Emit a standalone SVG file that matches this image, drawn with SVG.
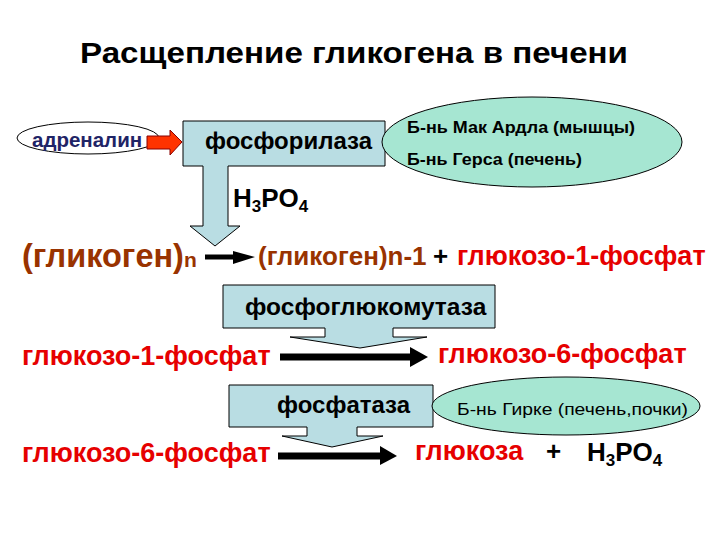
<svg xmlns="http://www.w3.org/2000/svg" width="720" height="540" viewBox="0 0 720 540">
<style>
text{font-family:"Liberation Sans",Arial,sans-serif;font-weight:bold}
.callout{fill:#b9dde3;stroke:#000;stroke-width:1}
.green{fill:#a6e6d2;stroke:#000;stroke-width:1}
.brown{fill:#993300}
.red{fill:#e60000}
.blk{fill:#000}
.arr{stroke:#000;stroke-width:7;fill:none}
</style>
<rect width="720" height="540" fill="#fff"/>
<text x="80" y="63" font-size="30" class="blk" textLength="548" lengthAdjust="spacingAndGlyphs">Расщепление гликогена в печени</text>

<g id="adrenalin">
<ellipse cx="88" cy="138" rx="71" ry="16" fill="#fff" stroke="#000" stroke-width="1"/>
<text x="32" y="147" font-size="20.5" fill="#1f2466">адреналин</text>
</g>

<g id="phosphorylase">
<path class="callout" d="M183,121 H385 V166 H228 V226 H240 L215,246 L190,226 H203 V166 H183 Z"/>
<text x="205" y="149" font-size="24" class="blk">фосфорилаза</text>
</g>

<g id="disease1">
<ellipse class="green" cx="532" cy="142" rx="150" ry="45"/>
<text x="407" y="133" font-size="17" class="blk" textLength="228" lengthAdjust="spacingAndGlyphs">Б-нь Мак Ардла (мышцы)</text>
<text x="407" y="165" font-size="17" class="blk" textLength="175" lengthAdjust="spacingAndGlyphs">Б-нь Герса (печень)</text>
</g>

<g id="h3po4-top">
<text x="233" y="207" font-size="26" class="blk">H<tspan font-size="17" dy="5">3</tspan><tspan dy="-5">PO</tspan><tspan font-size="17" dy="5">4</tspan></text>
</g>

<g id="glycogen-n">
<text x="22" y="267" font-size="32.5" class="brown">(гликоген)<tspan font-size="21">n</tspan></text>
</g>

<g id="products1">
<text x="258" y="265" font-size="26" class="brown">(гликоген)n-1</text>
<text x="433" y="265" font-size="26" class="blk">+</text>
<text x="457" y="265" font-size="27" class="red">глюкозо-1-фосфат</text>
</g>

<g id="phosphoglucomutase">
<path class="callout" d="M223,285 H495 V328 H393 V337 H427 L360,348 L290,337 H325 V328 H223 Z"/>
<text x="245" y="315" font-size="24.5" class="blk">фосфоглюкомутаза</text>
</g>

<g id="g1p">
<text x="22" y="365" font-size="27" class="red">глюкозо-1-фосфат</text>
</g>
<g id="g6p">
<text x="438" y="363" font-size="27" class="red">глюкозо-6-фосфат</text>
</g>

<g id="phosphatase">
<path class="callout" d="M229,385 H433 V427 H357 V436 H383 L332,447 L282,436 H307 V427 H229 Z"/>
<text x="277" y="413" font-size="24" class="blk">фосфатаза</text>
</g>

<g id="disease2">
<ellipse class="green" cx="566" cy="406" rx="134" ry="29"/>
<text x="457" y="415" font-size="17" style="font-weight:normal" class="blk" textLength="231" lengthAdjust="spacingAndGlyphs">Б-нь Гирке (печень,почки)</text>
</g>

<g id="g6p-2">
<text x="22" y="462" font-size="27" class="red">глюкозо-6-фосфат</text>
</g>
<g id="glucose">
<text x="415" y="460" font-size="27" class="red">глюкоза</text>
<text x="546" y="460" font-size="26" class="blk">+</text>
<text x="587" y="461" font-size="26" class="blk">H<tspan font-size="17" dy="5">3</tspan><tspan dy="-5">PO</tspan><tspan font-size="17" dy="5">4</tspan></text>
</g>

<g id="connectors">
<path d="M147,136 H170 V130 L182,142 L170,155 V149 H147 Z" fill="#ff3300" stroke="#800" stroke-width="1"/>
<line x1="205" y1="257" x2="236" y2="257" stroke="#000" stroke-width="5"/>
<polygon points="233,251 255,257 233,264" fill="#000"/>
<line x1="280" y1="357" x2="412" y2="357" class="arr"/>
<polygon points="410,347 428,357 410,367" fill="#000"/>
<line x1="278" y1="456" x2="382" y2="456" class="arr"/>
<polygon points="380,446 397,456 380,465" fill="#000"/>
</g>
</svg>
